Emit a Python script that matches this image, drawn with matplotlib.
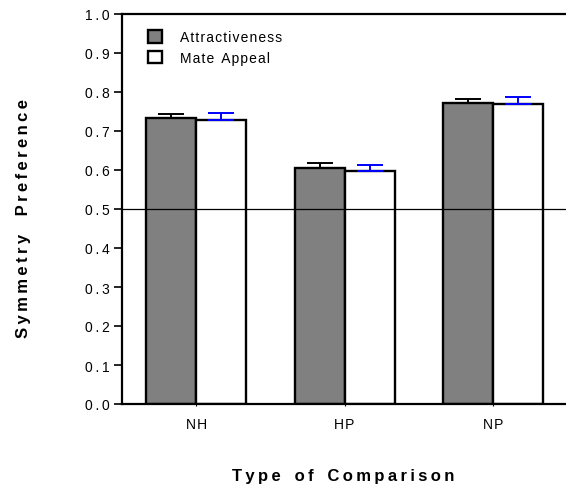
import matplotlib
matplotlib.use('Agg')
import matplotlib.pyplot as plt
import numpy as np

plt.rcParams['font.family'] = ['Liberation Sans', 'DejaVu Sans']

# data
categories = ['NH', 'HP', 'NP']
attract = [0.733, 0.606, 0.773]
attract_err = [0.011, 0.013, 0.010]
mate = [0.727, 0.598, 0.768]
mate_err = [0.020, 0.015, 0.020]
yticks = [0.0, 0.1, 0.2, 0.3, 0.4, 0.5, 0.6, 0.7, 0.8, 0.9, 1.0]


def spaced(s, sep='\u2009', gap='   '):
    # the original text is set with wide letter spacing
    return gap.join(sep.join(word) for word in s.split(' '))


fig = plt.figure(figsize=(5.66, 4.85), dpi=100)
ax = fig.add_axes([122/566, 1 - 405/485, 1.0 - 122/566 + 0.002, 390/485])

x = np.arange(len(categories))
w = 0.337

ax.bar(x - w/2, attract, w, color='#808080', edgecolor='black', linewidth=1.7,
       label=spaced('Attractiveness', '\u200a'), zorder=2)
ax.bar(x + w/2, mate, w, color='white', edgecolor='black', linewidth=1.7,
       label=spaced('Mate Appeal', '\u200a', '  '), zorder=2)
ax.errorbar(x - w/2, attract, yerr=[np.zeros(3), attract_err], fmt='none',
            ecolor='black', elinewidth=1.4, capsize=9.7, capthick=1.4, zorder=3)
ax.errorbar(x + w/2, mate, yerr=[np.zeros(3), mate_err], fmt='none',
            ecolor='#0000ff', elinewidth=1.4, capsize=9.7, capthick=1.4, zorder=3)

ax.axhline(0.5, color='black', linewidth=0.9, zorder=4)

ax.set_xlim(-0.5, 2.5)
ax.set_ylim(0, 1.0)
ax.set_yticks(yticks)
ax.set_yticklabels([spaced('%.1f' % v) for v in yticks], fontsize=10)
ax.set_xticks(x)
ax.set_xticklabels([spaced(c, '\u200a') for c in categories], fontsize=10)
ax.tick_params(axis='y', direction='out', length=6, width=1.2, pad=3)
ax.tick_params(axis='x', direction='out', length=1.5, width=0.8, pad=8)

for s in ['left', 'top', 'bottom']:
    ax.spines[s].set_linewidth(1.6)
ax.spines['right'].set_visible(False)

ax.set_ylabel(spaced('Symmetry Preference', gap='    '), fontsize=12,
              fontweight='bold')
ax.yaxis.set_label_coords((31 - 122) / (566 - 122), (405 - 219) / 390)
ax.set_xlabel(spaced('Type of Comparison'), fontsize=12, fontweight='bold')
ax.xaxis.set_label_coords((343 - 122) / (566 - 122), -64 / 390)

leg = ax.legend(loc='upper left', bbox_to_anchor=(0.03, 0.99), frameon=False,
                fontsize=10, handlelength=1.0, handleheight=1.0, handletextpad=1.3,
                labelspacing=0.45)

fig.savefig('out.png', dpi=100)
